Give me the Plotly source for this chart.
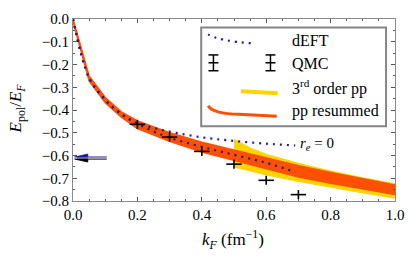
import plotly.graph_objects as go

# ---------------- data ----------------
kf_band = [0.0, 0.05, 0.1, 0.15, 0.2, 0.3, 0.4, 0.5, 0.6, 0.7, 0.8, 0.9, 1.0]
resummed_upper = [0.0, -0.25, -0.345, -0.408, -0.448, -0.500, -0.542, -0.577, -0.613, -0.645, -0.675, -0.703, -0.730]
resummed_lower = [-0.012, -0.272, -0.368, -0.432, -0.482, -0.537, -0.585, -0.622, -0.660, -0.695, -0.722, -0.747, -0.772]

kf_third = [0.5, 0.55, 0.6, 0.7, 0.8, 0.9, 1.0]
third_upper = [-0.526, -0.565, -0.592, -0.632, -0.666, -0.696, -0.722]
third_lower = [-0.653, -0.671, -0.688, -0.716, -0.742, -0.767, -0.790]

kf_deft = [0.0, 0.05, 0.1, 0.15, 0.2, 0.25, 0.3, 0.4, 0.5, 0.6, 0.69]
deft_re0 = [0.0, -0.258, -0.355, -0.418, -0.457, -0.479, -0.495, -0.520, -0.536, -0.548, -0.556]
deft_re = [0.0, -0.258, -0.355, -0.418, -0.460, -0.494, -0.522, -0.562, -0.597, -0.632, -0.673]

kf_qmc = [0.2, 0.3, 0.4, 0.5, 0.6, 0.7]
e_qmc = [-0.463, -0.519, -0.582, -0.638, -0.709, -0.772]
err_qmc = [0.02, 0.02, 0.02, 0.02, 0.02, 0.02]

unitary_values = [-0.6066, -0.6158]
unitary_colors = ["#1c1c9e", "#000000"]

tick_vals_x = [0.0, 0.2, 0.4, 0.6, 0.8, 1.0]
tick_vals_y = [0.0, -0.1, -0.2, -0.3, -0.4, -0.5, -0.6, -0.7, -0.8]

legend_labels = ["dEFT", "QMC", "3<sup>rd</sup> order pp", "pp resummed"]

RED = "#FF5000"
YELLOW = "#FFD400"
NAVY = "#1c1c9e"
FONT = "'Liberation Serif', 'DejaVu Serif', serif"

fig = go.Figure()

# 3rd order pp band
fig.add_trace(go.Scatter(x=kf_third, y=third_lower, mode="lines", line=dict(width=0, color=YELLOW),
                         showlegend=False, hoverinfo="skip"))
fig.add_trace(go.Scatter(x=kf_third, y=third_upper, mode="lines", line=dict(width=0, color=YELLOW),
                         fill="tonexty", fillcolor=YELLOW, showlegend=False, hoverinfo="skip"))
# pp resummed band
fig.add_trace(go.Scatter(x=kf_band, y=resummed_lower, mode="lines", line=dict(width=1.5, color=RED),
                         showlegend=False, hoverinfo="skip"))
fig.add_trace(go.Scatter(x=kf_band, y=resummed_upper, mode="lines", line=dict(width=1.5, color=RED),
                         fill="tonexty", fillcolor=RED, showlegend=False, hoverinfo="skip"))
# dEFT dotted
for yy in (deft_re0, deft_re):
    fig.add_trace(go.Scatter(x=kf_deft, y=yy, mode="lines", line=dict(width=2.2, color=NAVY, dash="2px,5px"),
                             line_shape="spline", showlegend=False, hoverinfo="skip"))
# QMC
fig.add_trace(go.Scatter(x=kf_qmc, y=e_qmc, mode="markers",
                         marker=dict(symbol="line-ew", size=11, line=dict(width=1.6, color="black")),
                         error_y=dict(type="data", array=err_qmc, width=0, thickness=1.6, color="black"),
                         showlegend=False, hoverinfo="skip"))

# unitary-limit arrows at left
shapes = []
for i, (v, c) in enumerate(zip(unitary_values, unitary_colors)):
    shapes.append(dict(type="line", xref="x", yref="y", x0=0.105, x1=0.012, y0=v, y1=v,
                       line=dict(color=c, width=1)))
    sgn = 1 if i == 0 else -1
    shapes.append(dict(type="path", xref="x", yref="y",
                       path=f"M 0.005,{v} L 0.046,{v + sgn*0.013} L 0.046,{v} Z",
                       fillcolor=c, line=dict(color=c, width=0.8)))

# manual legend (paper coords)
def px(x):
    return (x - 73) / 324

def py(y):
    return (201 - y) / 190

shapes.append(dict(type="rect", xref="paper", yref="paper", x0=px(202), x1=px(388), y0=py(123), y1=py(20),
                   line=dict(color="#858585", width=2), fillcolor="white", layer="below"))
shapes.append(dict(type="path", xref="paper", yref="paper",
                   path=f"M {px(209)},{py(27)} Q {px(220)},{py(34)} {px(255)},{py(36.5)}",
                   line=dict(color=NAVY, width=2.2, dash="2px,5px")))
for xc in (214.3, 271.7):
    shapes.append(dict(type="line", xref="paper", yref="paper", x0=px(xc), x1=px(xc), y0=py(48.5), y1=py(65),
                       line=dict(color="black", width=1.5)))
    for yc in (48.5, 56.7, 65):
        shapes.append(dict(type="line", xref="paper", yref="paper", x0=px(xc - 5), x1=px(xc + 5),
                           y0=py(yc), y1=py(yc), line=dict(color="black", width=1.5)))
shapes.append(dict(type="line", xref="paper", yref="paper", x0=px(242), x1=px(279), y0=py(86.5), y1=py(88.5),
                   line=dict(color=YELLOW, width=4)))
shapes.append(dict(type="path", xref="paper", yref="paper",
                   path=f"M {px(209)},{py(101.5)} Q {px(214)},{py(110)} {px(240)},{py(110.5)} L {px(278)},{py(112.5)}",
                   line=dict(color=RED, width=3)))

annotations = []
legend_y = [33, 57, 82, 107]
for lab, yc in zip(legend_labels, legend_y):
    annotations.append(dict(text=lab, xref="paper", yref="paper", x=px(291), y=py(yc), xanchor="left",
                            yanchor="middle", showarrow=False, font=dict(family=FONT, size=16, color="black")))

annotations.append(dict(text="<i>r<sub>e</sub></i> = 0", xref="x", yref="y", x=0.70, y=-0.549,
                        xanchor="left", yanchor="middle", showarrow=False,
                        font=dict(family=FONT, size=15, color="black")))
annotations.append(dict(text="<i>k<sub>F</sub></i> (fm<sup>−1</sup>)", xref="paper", yref="paper",
                        x=px(234), y=py(241), xanchor="center", yanchor="middle", showarrow=False,
                        font=dict(family=FONT, size=17, color="black")))
annotations.append(dict(text="<i>E</i><sub>pol</sub>/<i>E<sub>F</sub></i>", xref="paper", yref="paper",
                        x=px(17), y=py(104), xanchor="center", yanchor="middle", showarrow=False, textangle=-90,
                        font=dict(family=FONT, size=17, color="black")))

axis_common = dict(showgrid=False, zeroline=False, showline=True, linecolor="#8a8a8a", linewidth=1,
                   mirror="ticks", ticks="inside", ticklen=4, tickcolor="#555", tickwidth=1,
                   tickfont=dict(family=FONT, size=15, color="black"), tickformat=".1f")

fig.update_layout(
    width=415, height=256,
    margin=dict(l=73, r=18, t=11, b=55),
    plot_bgcolor="white", paper_bgcolor="white",
    showlegend=False,
    font=dict(family=FONT),
    xaxis=dict(range=[0, 1], tickvals=tick_vals_x,
               minor=dict(dtick=0.05, ticks="inside", ticklen=2, tickcolor="#555"), **axis_common),
    yaxis=dict(range=[-0.8, 0], tickvals=tick_vals_y,
               minor=dict(dtick=0.05, ticks="inside", ticklen=2, tickcolor="#555"), **axis_common),
    shapes=shapes,
    annotations=annotations,
)

fig.write_html("out.html", config={"displayModeBar": False},
               post_script="document.body.style.margin='0';document.body.style.padding='0';")
